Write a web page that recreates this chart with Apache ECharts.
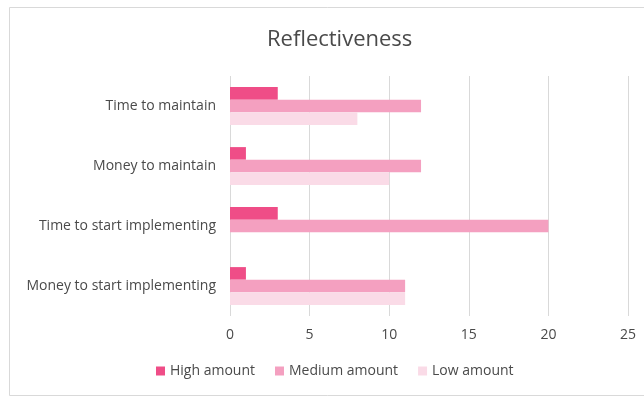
<!DOCTYPE html>
<html><head><meta charset="utf-8">
<script src="https://cdn.jsdelivr.net/npm/echarts@6/dist/echarts.min.js"></script>
<style>html,body{margin:0;padding:0;background:#fff}#c{width:644px;height:397px}</style>
</head><body><div id="c"></div>
<script>
const categories = ["Time to maintain", "Money to maintain", "Time to start implementing", "Money to start implementing"];
const highAmount = [3, 1, 3, 1];
const mediumAmount = [12, 12, 20, 11];
const lowAmount = [8, 10, 0, 11];
const xTicks = [0, 5, 10, 15, 20, 25];

const font = "Open Sans";
const txt = '#4a4a4a';
const chart = echarts.init(document.getElementById('c'), null, {renderer: 'canvas'});
chart.setOption({
  animation: false,
  backgroundColor: '#fff',
  graphic: [{type: 'rect', shape: {x: 9.5, y: 7.5, width: 640, height: 388}, style: {fill: 'none', stroke: '#d9d9d9', lineWidth: 1}, z: -1}],
  title: {text: 'Reflectiveness', left: 262, top: 24, textStyle: {fontFamily: font, fontSize: 22, fontWeight: 'normal', color: txt}},
  legend: {bottom: 14, left: 151, itemWidth: 9, itemHeight: 9, itemGap: 20, icon: 'rect',
    textStyle: {fontFamily: font, fontSize: 14, color: txt}},
  grid: {left: 230, right: 16, top: 76, bottom: 81, containLabel: false},
  xAxis: {type: 'value', min: xTicks[0], max: xTicks[xTicks.length-1], interval: 5,
    axisLine: {show: false}, axisTick: {show: false},
    axisLabel: {fontFamily: font, fontSize: 14, color: txt, margin: 12},
    splitLine: {lineStyle: {color: '#d9d9d9'}}},
  yAxis: {type: 'category', data: categories, inverse: true,
    axisLine: {show: false}, axisTick: {show: false},
    axisLabel: {fontFamily: font, fontSize: 14, color: txt, margin: 14}},
  series: [
    {name: 'High amount', type: 'bar', data: highAmount, itemStyle: {color: '#ef4d87'}, barGap: '0%', barCategoryGap: '37%'},
    {name: 'Medium amount', type: 'bar', data: mediumAmount, itemStyle: {color: '#f4a0c0'}, barGap: '0%', barCategoryGap: '37%'},
    {name: 'Low amount', type: 'bar', data: lowAmount, itemStyle: {color: '#fadbe7'}, barGap: '0%', barCategoryGap: '37%'}
  ]
});
</script></body></html>
